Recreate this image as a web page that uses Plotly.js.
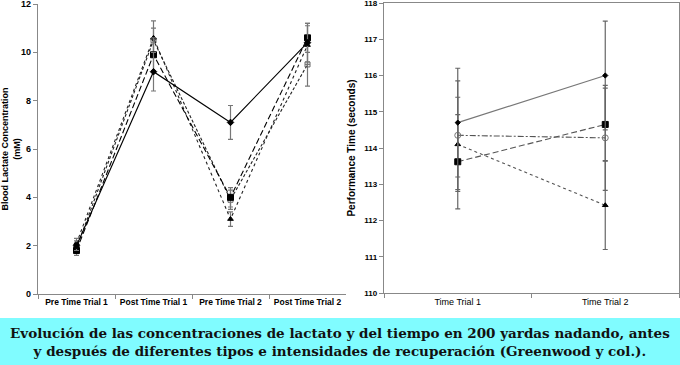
<!DOCTYPE html>
<html><head><meta charset="utf-8">
<script src="https://cdn.plot.ly/plotly-3.0.1.min.js"></script>
<style>html,body{margin:0;padding:0;background:#fff}#c{width:680px;height:365px}</style>
</head><body><div id="c"></div>
<script>
// Left chart: blood lactate
const lacCats = ["Pre Time Trial 1", "Post Time Trial 1", "Pre Time Trial 2", "Post Time Trial 2"];
const lacA = [2.0, 9.2, 7.1, 10.4];   const lacAerr = [0.2, 0.8, 0.7, 0.8];
const lacB = [1.8, 9.9, 4.0, 10.6];   const lacBerr = [0.2, 0.7, 0.4, 0.6];
const lacC = [2.1, 10.6, 3.1, 10.3];  const lacCerr = [0.2, 0.7, 0.3, 0.8];
const lacD = [1.9, 10.5, 3.9, 9.5];   const lacDerr = [0.2, 0.5, 0.4, 0.9];
const lacTicks = [0, 2, 4, 6, 8, 10, 12];
// Right chart: performance time
const perfCats = ["Time Trial 1", "Time Trial 2"];
const perfA = [114.7, 116.0];   const perfAerr = [1.5, 1.5];
const perfB = [113.62, 114.65]; const perfBerr = [1.3, 1.0];
const perfC = [114.35, 114.28]; const perfCerr = [1.5, 1.45];
const perfD = [114.1, 112.42];  const perfDerr = [1.3, 1.22];
const perfTicks = [110, 111, 112, 113, 114, 115, 116, 117, 118];
const caption = "Evolución de las concentraciones de lactato y del tiempo en 200 yardas nadando, antes<br>y después de diferentes tipos e intensidades de recuperación (Greenwood y col.).";

const ebar = (arr, col) => ({type:'data', array: arr, visible:true, color: col||'#777', thickness:1.2, width:2.5});
function tr(x, y, err, dash, sym, mcol, lcol, xa, ya, msize, ecol){
  return {x:x, y:y, type:'scatter', mode:'lines+markers', xaxis:xa, yaxis:ya,
    line:{color:lcol, width:1.1, dash:dash},
    marker:{symbol:sym, size:msize||5, color:mcol, line:{color:mcol, width:1}},
    error_y: ebar(err, ecol), showlegend:false, hoverinfo:'skip'};
}
const data = [
  tr(lacCats, lacD, lacDerr, '3px,2px', 'square-open', '#666', '#222', 'x', 'y', 5),
  tr(lacCats, lacC, lacCerr, 'dot', 'triangle-up', '#000', '#222', 'x', 'y', 5),
  tr(lacCats, lacB, lacBerr, '6px,3px', 'square', '#000', '#000', 'x', 'y', 6),
  tr(lacCats, lacA, lacAerr, 'solid', 'diamond', '#000', '#000', 'x', 'y', 5),
  tr(perfCats, perfD, perfDerr, 'dot', 'triangle-up', '#000', '#555', 'x2', 'y2', 5, '#666'),
  tr(perfCats, perfC, perfCerr, '6px,2px,2px,2px', 'circle-open', '#777', '#555', 'x2', 'y2', 6, '#666'),
  tr(perfCats, perfB, perfBerr, '6px,3px', 'square', '#000', '#555', 'x2', 'y2', 6, '#666'),
  tr(perfCats, perfA, perfAerr, 'solid', 'diamond', '#000', '#777', 'x2', 'y2', 4, '#666')
];
const tickFontB = {family:'Liberation Sans, Arial, sans-serif', size:9, color:'#000', weight:'bold'};
const layout = {
  width:680, height:365, margin:{l:0, r:0, t:0, b:0},
  paper_bgcolor:'#fff', plot_bgcolor:'rgba(0,0,0,0)',
  xaxis:{domain:[38/680, 346/680], anchor:'y', type:'category', range:[-0.5, 3.5],
    showline:true, linecolor:'#888', linewidth:1.2, ticks:'outside', ticklen:4, tickcolor:'#888',
    tickson:'boundaries', showgrid:false, zeroline:false, tickangle:0, ticklabeloverflow:'allow',
    tickfont:{family:'Liberation Sans, Arial, sans-serif', size:8.5, color:'#000', weight:'bold'}, fixedrange:true},
  yaxis:{domain:[71/365, 361/365], anchor:'x', range:[0, 12], tickvals:lacTicks,
    showline:true, linecolor:'#888', linewidth:1.2, ticks:'outside', ticklen:4, tickcolor:'#888',
    showgrid:false, zeroline:false, tickfont:tickFontB, ticklabeloverflow:'allow',
    title:{text:'Blood Lactate Concentration<br>(mM)', font:{family:'Liberation Sans, Arial, sans-serif', size:9, color:'#000', weight:'bold'}, standoff:8}},
  xaxis2:{domain:[384/680, 679/680], anchor:'y2', type:'category', range:[-0.5, 1.5],
    showline:true, mirror:true, linecolor:'#888', linewidth:1.2, ticks:'outside', ticklen:4, tickcolor:'#888',
    tickson:'boundaries', showgrid:false, zeroline:false, tickangle:0, ticklabeloverflow:'allow',
    tickfont:{family:'Liberation Sans, Arial, sans-serif', size:9, color:'#000'}},
  yaxis2:{domain:[72/365, 362/365], anchor:'x2', range:[110, 118], tickvals:perfTicks,
    showline:true, mirror:true, linecolor:'#888', linewidth:1.2, ticks:'outside', ticklen:4, tickcolor:'#888',
    showgrid:false, zeroline:false, ticklabeloverflow:'allow',
    tickfont:{family:'Liberation Sans, Arial, sans-serif', size:8, color:'#000', weight:'bold'},
    title:{text:'Performance Time (seconds)', font:{family:'Liberation Sans, Arial, sans-serif', size:10, color:'#000', weight:'bold'}, standoff:6}},
  shapes:[{type:'rect', xref:'paper', yref:'paper', x0:0, x1:1, y0:0, y1:47/365, fillcolor:'#80FCFF', line:{width:0}, layer:'below'}],
  annotations:[{xref:'paper', yref:'paper', x:0.5, y:23/365, xanchor:'center', yanchor:'middle', showarrow:false,
    text:caption, align:'center',
    font:{family:'DejaVu Serif, serif', size:13.5, color:'#111', weight:'bold'}}]
};
Plotly.newPlot('c', data, layout, {staticPlot:true, displayModeBar:false});
</script></body></html>
